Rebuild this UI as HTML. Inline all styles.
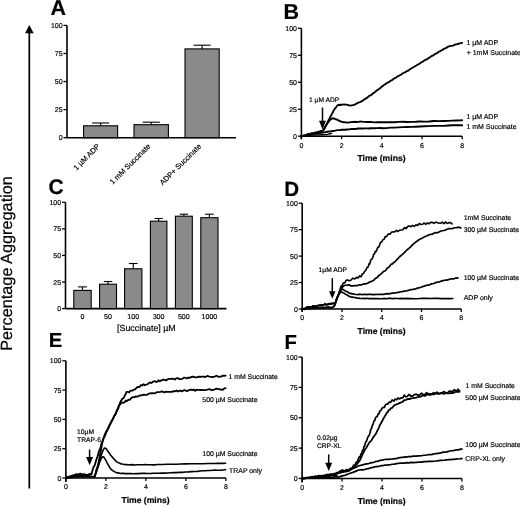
<!DOCTYPE html>
<html><head><meta charset="utf-8"><style>
html,body{margin:0;padding:0;background:#fff;}
svg{display:block;will-change:transform;}
text{font-family:"Liberation Sans", sans-serif;fill:#000;text-rendering:geometricPrecision;stroke:#000;stroke-width:0.18px;}
</style></head><body>
<svg width="520" height="506" viewBox="0 0 520 506">
<rect width="520" height="506" fill="#fff"/>
<line x1="29.30" y1="31.00" x2="29.30" y2="488.50" stroke="#000" stroke-width="1.7"/>
<polygon points="25.1,33.3 33.7,33.3 29.3,25" fill="#000"/>
<text x="0" y="0" font-size="16.3" transform="translate(11.7,350.8) rotate(-90)">Percentage Aggregation</text>
<text x="50.40" y="14.80" font-size="21.5" text-anchor="start" font-weight="bold" >A</text>
<line x1="67.00" y1="25.40" x2="67.00" y2="137.70" stroke="#000" stroke-width="1.6"/>
<line x1="63.50" y1="137.70" x2="67.00" y2="137.70" stroke="#000" stroke-width="1.3"/>
<text x="62.60" y="140.20" font-size="7.0" text-anchor="end" >0</text>
<line x1="63.50" y1="109.62" x2="67.00" y2="109.62" stroke="#000" stroke-width="1.3"/>
<text x="62.60" y="112.12" font-size="7.0" text-anchor="end" >25</text>
<line x1="63.50" y1="81.55" x2="67.00" y2="81.55" stroke="#000" stroke-width="1.3"/>
<text x="62.60" y="84.05" font-size="7.0" text-anchor="end" >50</text>
<line x1="63.50" y1="53.48" x2="67.00" y2="53.48" stroke="#000" stroke-width="1.3"/>
<text x="62.60" y="55.98" font-size="7.0" text-anchor="end" >75</text>
<line x1="63.50" y1="25.40" x2="67.00" y2="25.40" stroke="#000" stroke-width="1.3"/>
<text x="62.60" y="27.90" font-size="7.0" text-anchor="end" >100</text>
<line x1="67.00" y1="137.70" x2="236.00" y2="137.70" stroke="#000" stroke-width="1.6"/>
<rect x="83.60" y="125.80" width="34.00" height="11.90" fill="#8a8a8a" stroke="#000" stroke-width="1.1"/>
<line x1="100.60" y1="123.00" x2="100.60" y2="125.80" stroke="#000" stroke-width="1.1"/>
<line x1="92.10" y1="123.00" x2="109.10" y2="123.00" stroke="#000" stroke-width="1.1"/>
<rect x="134.00" y="124.70" width="34.40" height="13.00" fill="#8a8a8a" stroke="#000" stroke-width="1.1"/>
<line x1="151.20" y1="122.20" x2="151.20" y2="124.70" stroke="#000" stroke-width="1.1"/>
<line x1="142.60" y1="122.20" x2="159.80" y2="122.20" stroke="#000" stroke-width="1.1"/>
<rect x="185.00" y="48.90" width="34.20" height="88.80" fill="#8a8a8a" stroke="#000" stroke-width="1.1"/>
<line x1="202.10" y1="45.20" x2="202.10" y2="48.90" stroke="#000" stroke-width="1.1"/>
<line x1="193.55" y1="45.20" x2="210.65" y2="45.20" stroke="#000" stroke-width="1.1"/>
<text x="0" y="0" font-size="7.5" text-anchor="end" transform="translate(100.40,146.80) rotate(-45)">1 µM ADP</text>
<text x="0" y="0" font-size="7.5" text-anchor="end" transform="translate(150.90,146.80) rotate(-45)">1 mM Succinate</text>
<text x="0" y="0" font-size="7.5" text-anchor="end" transform="translate(201.60,146.80) rotate(-45)">ADP+ Succinate</text>
<text x="283.40" y="18.90" font-size="21.5" text-anchor="start" font-weight="bold" >B</text>
<line x1="301.40" y1="28.30" x2="301.40" y2="139.20" stroke="#000" stroke-width="1.6"/>
<line x1="297.90" y1="136.20" x2="301.40" y2="136.20" stroke="#000" stroke-width="1.3"/>
<text x="297.00" y="138.70" font-size="7.0" text-anchor="end" >0</text>
<line x1="297.90" y1="109.22" x2="301.40" y2="109.22" stroke="#000" stroke-width="1.3"/>
<text x="297.00" y="111.72" font-size="7.0" text-anchor="end" >25</text>
<line x1="297.90" y1="82.25" x2="301.40" y2="82.25" stroke="#000" stroke-width="1.3"/>
<text x="297.00" y="84.75" font-size="7.0" text-anchor="end" >50</text>
<line x1="297.90" y1="55.27" x2="301.40" y2="55.27" stroke="#000" stroke-width="1.3"/>
<text x="297.00" y="57.77" font-size="7.0" text-anchor="end" >75</text>
<line x1="297.90" y1="28.30" x2="301.40" y2="28.30" stroke="#000" stroke-width="1.3"/>
<text x="297.00" y="30.80" font-size="7.0" text-anchor="end" >100</text>
<line x1="301.40" y1="136.20" x2="462.20" y2="136.20" stroke="#000" stroke-width="1.6"/>
<line x1="301.40" y1="136.20" x2="301.40" y2="139.20" stroke="#000" stroke-width="1.3"/>
<text x="301.40" y="147.60" font-size="7.0" text-anchor="middle" >0</text>
<line x1="341.60" y1="136.20" x2="341.60" y2="139.20" stroke="#000" stroke-width="1.3"/>
<text x="341.60" y="147.60" font-size="7.0" text-anchor="middle" >2</text>
<line x1="381.80" y1="136.20" x2="381.80" y2="139.20" stroke="#000" stroke-width="1.3"/>
<text x="381.80" y="147.60" font-size="7.0" text-anchor="middle" >4</text>
<line x1="422.00" y1="136.20" x2="422.00" y2="139.20" stroke="#000" stroke-width="1.3"/>
<text x="422.00" y="147.60" font-size="7.0" text-anchor="middle" >6</text>
<line x1="462.20" y1="136.20" x2="462.20" y2="139.20" stroke="#000" stroke-width="1.3"/>
<text x="462.20" y="147.60" font-size="7.0" text-anchor="middle" >8</text>
<text x="381.50" y="161.30" font-size="8.6" text-anchor="middle" font-weight="bold" >Time (mins)</text>
<path d="M301.40,136.04 L302.88,135.82 L303.88,135.43 L305.00,135.26 L306.20,134.94 L307.44,134.27 L308.68,133.90 L309.88,134.06 L311.00,133.42 L312.00,133.14 L313.84,133.15 L315.60,132.44 L317.25,132.29 L318.73,131.73 L320.00,131.48 L320.99,130.93 L322.03,130.96 L323.17,130.37 L323.85,129.38 L324.55,128.42 L325.25,127.09 L325.95,125.33 L326.65,124.33 L327.35,122.88 L328.05,121.32 L328.75,119.73 L329.45,118.80 L330.15,117.17 L330.85,115.95 L331.57,114.66 L332.28,113.19 L332.99,112.00 L333.67,110.48 L334.32,109.67 L334.93,108.49 L335.52,107.93 L336.40,106.81 L337.30,105.52 L338.46,104.94 L339.80,104.70 L341.11,104.96 L342.14,104.56 L343.22,104.64 L344.33,104.44 L345.40,104.60 L346.44,104.67 L347.48,104.87 L348.52,105.26 L349.56,105.43 L350.60,105.64 L351.60,105.38 L353.04,105.15 L354.05,104.74 L355.17,104.36 L356.46,103.62 L357.87,102.70 L359.38,102.42 L360.99,101.66 L362.70,100.68 L363.60,99.94 L364.52,99.45 L365.47,98.54 L366.45,98.26 L367.45,97.42 L368.48,96.53 L369.53,95.66 L370.61,95.36 L371.71,94.65 L372.84,93.29 L374.00,92.88 L375.20,91.77 L376.44,90.68 L377.71,89.79 L379.02,89.07 L380.34,88.10 L381.68,86.58 L383.03,85.91 L384.36,84.58 L385.69,84.03 L387.00,82.90 L388.29,82.38 L389.58,81.62 L390.87,80.55 L392.16,80.08 L393.45,78.92 L394.74,78.04 L396.03,77.61 L397.32,76.53 L398.61,75.88 L399.90,75.24 L401.20,74.59 L402.49,73.54 L403.79,72.69 L405.09,72.41 L406.39,71.29 L407.70,70.90 L409.00,70.08 L410.30,68.99 L411.60,68.26 L412.90,67.51 L414.20,66.81 L415.50,66.00 L416.80,65.20 L418.10,64.45 L419.40,63.86 L420.70,62.82 L422.00,62.00 L423.30,61.39 L424.60,60.32 L425.90,59.58 L427.22,59.19 L428.58,58.10 L429.96,57.28 L431.35,56.12 L432.72,55.54 L434.07,54.82 L435.38,53.70 L436.63,53.31 L437.81,52.62 L438.90,51.64 L439.89,51.39 L440.79,50.75 L442.39,49.92 L443.83,48.88 L445.22,48.33 L446.70,47.64 L448.26,46.57 L449.83,46.04 L451.39,45.92 L452.95,45.63 L454.50,44.75 L456.15,44.40 L457.92,44.02 L459.62,43.42 L461.07,43.08 L462.10,42.79" fill="none" stroke="#000" stroke-width="1.9" stroke-linejoin="round" stroke-linecap="round"/>
<path d="M323.50,129.75 L324.31,128.47 L325.06,127.07 L325.88,125.74 L326.65,124.64 L327.32,123.33 L327.94,122.62 L328.54,121.83 L329.42,120.54 L330.29,119.62 L331.12,119.19 L332.22,118.42 L333.41,118.29 L334.70,118.75 L335.68,119.25 L336.84,119.54 L337.97,120.25 L339.20,120.73 L340.23,121.30 L341.36,121.56 L342.66,122.13 L344.21,122.18 L346.10,122.43 L347.18,122.58 L348.33,122.63 L349.56,122.38 L350.86,122.18 L352.23,122.02 L353.66,122.05 L355.16,121.79 L356.72,121.93 L358.33,121.87 L360.00,121.57 L361.66,121.62 L363.29,121.88 L364.92,121.88 L366.60,122.03 L368.37,121.94 L370.27,121.95 L372.34,122.10 L374.62,122.36 L377.16,122.20 L380.00,122.24 L383.18,122.24 L386.69,122.20 L390.46,122.14 L394.46,122.26 L398.62,121.87 L402.89,121.71 L407.22,121.98 L411.55,121.85 L415.82,121.79 L420.00,121.47 L424.31,121.58 L428.96,121.45 L433.80,121.05 L438.71,121.13 L443.55,121.03 L448.19,120.84 L452.50,120.67 L456.34,120.47 L459.59,120.40 L462.10,120.29" fill="none" stroke="#000" stroke-width="1.9" stroke-linejoin="round" stroke-linecap="round"/>
<path d="M301.40,136.03 L302.85,135.92 L304.91,135.35 L306.07,135.31 L307.29,134.75 L308.53,134.83 L309.75,134.50 L310.92,134.37 L312.00,134.16 L313.03,133.99 L314.07,133.70 L315.11,133.32 L316.14,133.47 L317.16,133.11 L318.17,133.03 L319.17,133.05 L321.08,132.74 L322.87,132.44 L324.48,132.41 L326.00,132.04 L327.52,131.70 L329.13,131.43 L330.87,131.41 L332.54,130.99 L334.25,130.83 L336.20,130.37 L337.33,130.16 L338.59,130.15 L340.00,130.13 L341.60,129.72 L343.36,129.82 L345.26,129.72 L347.28,129.51 L349.38,129.37 L351.52,128.89 L353.69,129.00 L355.84,128.96 L357.96,128.52 L360.00,128.51 L361.91,128.43 L363.68,128.49 L365.37,128.42 L367.04,128.42 L368.75,128.53 L370.56,128.21 L372.53,128.21 L374.72,128.20 L377.19,128.14 L380.00,128.03 L383.18,128.27 L386.69,128.08 L390.46,127.61 L394.46,127.60 L398.62,127.33 L402.89,127.14 L407.22,126.96 L411.55,126.89 L415.82,126.69 L420.00,126.44 L424.31,126.22 L428.96,126.13 L433.80,125.89 L438.71,125.91 L443.55,125.83 L448.19,125.56 L452.50,125.31 L456.34,125.24 L459.59,125.22 L462.10,125.24" fill="none" stroke="#000" stroke-width="1.9" stroke-linejoin="round" stroke-linecap="round"/>
<path d="M305.00,135.71 L306.36,135.47 L308.28,135.51 L309.38,135.37 L310.52,135.23 L311.69,135.13 L312.84,135.12 L313.96,135.14 L315.00,134.97 L316.01,135.03 L317.05,134.91 L318.09,134.79 L319.14,134.89 L320.19,134.93 L321.22,134.65 L322.22,134.76 L324.12,134.65 L325.85,134.65 L327.54,134.38 L329.12,133.82 L330.51,133.71 L331.60,133.40" fill="none" stroke="#000" stroke-width="1.4" stroke-linejoin="round" stroke-linecap="round"/>
<line x1="322.50" y1="107.50" x2="322.50" y2="121.30" stroke="#000" stroke-width="1.5"/>
<polygon points="319.00,120.80 326.00,120.80 322.50,129.60" fill="#000"/>
<text x="309.00" y="101.80" font-size="6.7" text-anchor="start" >1 µM ADP</text>
<text x="466.40" y="45.30" font-size="7.0" text-anchor="start" >1 µM ADP</text>
<text x="466.70" y="54.50" font-size="7.0" text-anchor="start" >+ 1mM Succinate</text>
<text x="466.40" y="118.50" font-size="7.0" text-anchor="start" >1 µM ADP</text>
<text x="466.40" y="128.60" font-size="7.0" text-anchor="start" >1 mM Succinate</text>
<text x="48.50" y="193.50" font-size="21.0" text-anchor="start" font-weight="bold" >C</text>
<line x1="65.50" y1="202.30" x2="65.50" y2="308.60" stroke="#000" stroke-width="1.6"/>
<line x1="62.00" y1="308.60" x2="65.50" y2="308.60" stroke="#000" stroke-width="1.3"/>
<text x="61.10" y="311.10" font-size="7.0" text-anchor="end" >0</text>
<line x1="62.00" y1="282.03" x2="65.50" y2="282.03" stroke="#000" stroke-width="1.3"/>
<text x="61.10" y="284.53" font-size="7.0" text-anchor="end" >25</text>
<line x1="62.00" y1="255.45" x2="65.50" y2="255.45" stroke="#000" stroke-width="1.3"/>
<text x="61.10" y="257.95" font-size="7.0" text-anchor="end" >50</text>
<line x1="62.00" y1="228.88" x2="65.50" y2="228.88" stroke="#000" stroke-width="1.3"/>
<text x="61.10" y="231.38" font-size="7.0" text-anchor="end" >75</text>
<line x1="62.00" y1="202.30" x2="65.50" y2="202.30" stroke="#000" stroke-width="1.3"/>
<text x="61.10" y="204.80" font-size="7.0" text-anchor="end" >100</text>
<line x1="65.50" y1="308.60" x2="226.50" y2="308.60" stroke="#000" stroke-width="1.6"/>
<rect x="73.80" y="290.40" width="17.40" height="18.20" fill="#8a8a8a" stroke="#000" stroke-width="1.1"/>
<line x1="82.50" y1="286.90" x2="82.50" y2="290.40" stroke="#000" stroke-width="1.1"/>
<line x1="78.15" y1="286.90" x2="86.85" y2="286.90" stroke="#000" stroke-width="1.1"/>
<rect x="99.60" y="284.20" width="16.90" height="24.40" fill="#8a8a8a" stroke="#000" stroke-width="1.1"/>
<line x1="108.05" y1="281.50" x2="108.05" y2="284.20" stroke="#000" stroke-width="1.1"/>
<line x1="103.82" y1="281.50" x2="112.28" y2="281.50" stroke="#000" stroke-width="1.1"/>
<rect x="124.60" y="268.80" width="17.30" height="39.80" fill="#8a8a8a" stroke="#000" stroke-width="1.1"/>
<line x1="133.25" y1="263.50" x2="133.25" y2="268.80" stroke="#000" stroke-width="1.1"/>
<line x1="128.93" y1="263.50" x2="137.57" y2="263.50" stroke="#000" stroke-width="1.1"/>
<rect x="150.40" y="221.20" width="16.50" height="87.40" fill="#8a8a8a" stroke="#000" stroke-width="1.1"/>
<line x1="158.65" y1="218.50" x2="158.65" y2="221.20" stroke="#000" stroke-width="1.1"/>
<line x1="154.53" y1="218.50" x2="162.78" y2="218.50" stroke="#000" stroke-width="1.1"/>
<rect x="175.40" y="216.20" width="16.90" height="92.40" fill="#8a8a8a" stroke="#000" stroke-width="1.1"/>
<line x1="183.85" y1="214.20" x2="183.85" y2="216.20" stroke="#000" stroke-width="1.1"/>
<line x1="179.63" y1="214.20" x2="188.08" y2="214.20" stroke="#000" stroke-width="1.1"/>
<rect x="200.80" y="217.70" width="17.20" height="90.90" fill="#8a8a8a" stroke="#000" stroke-width="1.1"/>
<line x1="209.40" y1="214.20" x2="209.40" y2="217.70" stroke="#000" stroke-width="1.1"/>
<line x1="205.10" y1="214.20" x2="213.70" y2="214.20" stroke="#000" stroke-width="1.1"/>
<text x="82.50" y="318.90" font-size="7.1" text-anchor="middle" >0</text>
<text x="108.00" y="318.90" font-size="7.1" text-anchor="middle" >50</text>
<text x="133.20" y="318.90" font-size="7.1" text-anchor="middle" >100</text>
<text x="158.60" y="318.90" font-size="7.1" text-anchor="middle" >300</text>
<text x="183.80" y="318.90" font-size="7.1" text-anchor="middle" >500</text>
<text x="209.40" y="318.90" font-size="7.1" text-anchor="middle" >1000</text>
<text x="146.40" y="331.20" font-size="8.85" text-anchor="middle" >[Succinate] µM</text>
<text x="284.30" y="196.20" font-size="20.6" text-anchor="start" font-weight="bold" >D</text>
<line x1="302.20" y1="203.20" x2="302.20" y2="312.00" stroke="#000" stroke-width="1.6"/>
<line x1="298.70" y1="309.00" x2="302.20" y2="309.00" stroke="#000" stroke-width="1.3"/>
<text x="297.80" y="311.50" font-size="7.0" text-anchor="end" >0</text>
<line x1="298.70" y1="282.55" x2="302.20" y2="282.55" stroke="#000" stroke-width="1.3"/>
<text x="297.80" y="285.05" font-size="7.0" text-anchor="end" >25</text>
<line x1="298.70" y1="256.10" x2="302.20" y2="256.10" stroke="#000" stroke-width="1.3"/>
<text x="297.80" y="258.60" font-size="7.0" text-anchor="end" >50</text>
<line x1="298.70" y1="229.65" x2="302.20" y2="229.65" stroke="#000" stroke-width="1.3"/>
<text x="297.80" y="232.15" font-size="7.0" text-anchor="end" >75</text>
<line x1="298.70" y1="203.20" x2="302.20" y2="203.20" stroke="#000" stroke-width="1.3"/>
<text x="297.80" y="205.70" font-size="7.0" text-anchor="end" >100</text>
<line x1="302.20" y1="309.00" x2="461.24" y2="309.00" stroke="#000" stroke-width="1.6"/>
<line x1="302.20" y1="309.00" x2="302.20" y2="312.00" stroke="#000" stroke-width="1.3"/>
<text x="302.20" y="320.40" font-size="7.0" text-anchor="middle" >0</text>
<line x1="341.96" y1="309.00" x2="341.96" y2="312.00" stroke="#000" stroke-width="1.3"/>
<text x="341.96" y="320.40" font-size="7.0" text-anchor="middle" >2</text>
<line x1="381.72" y1="309.00" x2="381.72" y2="312.00" stroke="#000" stroke-width="1.3"/>
<text x="381.72" y="320.40" font-size="7.0" text-anchor="middle" >4</text>
<line x1="421.48" y1="309.00" x2="421.48" y2="312.00" stroke="#000" stroke-width="1.3"/>
<text x="421.48" y="320.40" font-size="7.0" text-anchor="middle" >6</text>
<line x1="461.24" y1="309.00" x2="461.24" y2="312.00" stroke="#000" stroke-width="1.3"/>
<text x="461.24" y="320.40" font-size="7.0" text-anchor="middle" >8</text>
<text x="381.60" y="334.30" font-size="8.6" text-anchor="middle" font-weight="bold" >Time (mins)</text>
<path d="M302.30,308.37 L304.49,309.42 L306.53,307.01 L308.76,306.69 L310.97,307.73 L312.99,305.87 L315.01,306.57 L317.04,306.12 L319.06,305.21 L321.04,304.79 L322.96,305.79 L324.93,303.51 L326.88,305.08 L328.70,304.53 L330.31,303.77 L332.14,303.99 L333.71,303.12 L335.34,303.43 L336.26,300.15 L336.83,300.16 L337.40,297.25 L338.00,296.76 L338.62,294.77 L339.23,291.63 L339.86,290.72 L340.54,287.52 L341.30,285.92 L342.17,285.46 L343.12,282.98 L344.62,282.99 L346.10,280.31 L347.47,279.99 L349.28,280.74 L350.80,280.18 L352.64,278.18 L354.67,279.02 L356.56,277.34 L358.05,278.01 L359.62,275.94 L361.10,276.84 L362.27,273.79 L363.44,273.69 L364.61,271.32 L365.80,270.43 L367.00,267.56 L368.20,267.09 L369.00,263.71 L369.78,264.02 L370.56,260.67 L371.34,259.21 L372.12,259.08 L372.90,257.17 L373.70,253.99 L374.50,253.96 L375.30,251.20 L376.10,251.67 L376.90,249.63 L377.68,247.39 L378.46,247.35 L379.24,246.24 L380.41,242.41 L381.60,242.25 L382.80,239.72 L384.00,239.46 L385.18,236.65 L386.52,236.58 L388.16,234.01 L389.97,234.20 L391.44,232.19 L393.04,231.74 L394.68,232.02 L396.30,230.29 L397.90,231.52 L399.54,230.24 L401.19,229.93 L402.85,229.72 L404.50,227.49 L406.14,228.71 L407.78,226.39 L409.42,225.98 L411.06,226.65 L412.70,225.37 L414.34,226.32 L415.98,224.75 L417.63,225.56 L419.27,223.47 L420.90,224.53 L422.52,224.33 L424.14,222.96 L425.76,224.38 L427.38,222.92 L429.00,223.78 L430.63,222.39 L432.27,222.37 L433.92,223.45 L435.56,222.22 L437.20,222.44 L438.86,223.11 L440.53,223.22 L442.20,222.17 L443.83,223.71 L445.40,221.93 L447.00,223.48 L448.66,222.86 L450.22,222.49 L452.08,223.94" fill="none" stroke="#000" stroke-width="1.6" stroke-linejoin="round" stroke-linecap="round"/>
<path d="M302.30,308.92 L304.02,309.10 L306.45,308.96 L309.29,308.66 L312.24,308.28 L315.00,307.65 L317.70,307.77 L320.54,307.46 L323.33,307.70 L325.88,307.66 L328.00,307.20 L329.61,307.29 L331.34,308.06 L333.06,306.92 L334.32,306.06 L335.01,304.44 L335.64,302.51 L336.28,299.87 L337.00,298.05 L337.80,296.07 L338.64,293.95 L339.51,292.16 L340.40,289.94 L341.30,288.00 L342.66,286.99 L344.05,285.66 L345.56,285.23 L347.24,285.16 L349.06,284.75 L351.01,285.95 L353.13,285.95 L354.70,285.69 L356.35,285.57 L358.00,285.30 L359.57,284.81 L361.66,284.80 L363.55,283.94 L365.37,283.92 L367.23,283.40 L369.12,282.36 L371.01,281.49 L372.90,280.76 L374.16,279.86 L375.42,278.21 L376.67,277.91 L377.93,276.74 L379.20,275.15 L380.50,274.38 L381.83,273.12 L383.16,271.80 L384.43,271.12 L385.60,270.43 L387.13,268.32 L388.50,267.46 L389.84,265.93 L391.19,264.15 L392.44,263.85 L393.85,262.43 L395.00,261.73 L396.36,260.21 L397.88,258.73 L399.52,256.70 L401.24,255.47 L403.00,253.93 L404.86,252.17 L406.83,249.98 L408.85,248.52 L410.83,246.55 L412.70,244.61 L414.44,243.12 L416.09,241.82 L417.70,240.70 L419.29,239.51 L420.90,238.80 L422.52,238.07 L424.14,237.09 L425.76,236.24 L427.38,235.79 L429.00,234.80 L430.63,234.36 L432.27,234.12 L433.92,233.27 L435.56,232.57 L437.20,232.80 L438.84,232.12 L440.48,231.26 L442.12,230.78 L443.76,230.47 L445.40,230.10 L447.08,229.31 L448.81,228.68 L450.52,228.51 L452.14,228.76 L454.27,227.73 L456.11,227.76 L457.70,227.32 L459.37,227.35 L460.88,227.99" fill="none" stroke="#000" stroke-width="1.7" stroke-linejoin="round" stroke-linecap="round"/>
<path d="M302.30,308.95 L304.02,308.69 L305.17,308.52 L306.45,308.45 L307.84,308.37 L309.29,308.41 L310.77,308.07 L312.24,307.95 L313.66,308.06 L315.00,307.95 L316.32,308.03 L317.70,307.64 L319.11,307.76 L320.54,307.71 L321.95,307.48 L323.33,307.91 L324.64,307.49 L325.88,307.39 L327.00,307.54 L328.86,307.32 L330.26,307.68 L331.34,307.70 L332.65,307.46 L333.50,306.78 L334.32,305.85 L335.01,303.86 L335.32,303.13 L335.64,301.93 L335.95,301.13 L336.28,299.79 L336.63,298.78 L337.40,296.99 L337.83,296.32 L338.27,295.26 L338.72,294.15 L339.17,293.08 L339.62,292.48 L340.50,291.09 L341.30,289.85 L342.29,289.08 L343.46,289.73 L344.50,290.40 L345.75,291.05 L346.66,291.49 L347.63,292.01 L348.66,292.78 L349.74,293.28 L350.82,293.25 L351.95,293.91 L353.21,293.90 L354.67,294.27 L356.39,294.48 L358.33,294.60 L359.37,294.19 L360.46,294.35 L361.59,294.52 L362.77,294.71 L364.00,294.29 L365.28,294.40 L366.60,294.67 L368.00,294.31 L369.51,294.44 L371.10,294.40 L372.74,294.56 L374.41,294.66 L376.08,294.26 L377.75,294.50 L379.37,294.45 L380.93,294.44 L382.40,294.23 L383.78,294.33 L385.09,293.96 L386.34,293.89 L387.56,293.69 L388.75,293.85 L389.94,293.57 L391.14,293.32 L392.38,293.11 L393.66,293.21 L395.00,292.95 L396.41,292.78 L397.86,292.38 L399.35,292.17 L400.87,291.73 L402.40,291.71 L403.94,291.06 L405.48,290.97 L407.01,290.79 L408.52,290.42 L410.00,289.80 L411.43,289.53 L412.82,289.50 L414.17,289.05 L415.51,288.81 L416.86,288.44 L418.22,287.85 L419.62,287.68 L421.07,287.19 L422.59,286.57 L424.20,286.14 L425.91,285.50 L427.73,285.14 L429.63,284.85 L431.58,283.85 L433.56,283.49 L435.54,282.68 L437.52,282.09 L439.45,281.83 L441.32,281.12 L443.10,280.57 L444.87,280.21 L446.70,280.06 L448.54,279.65 L450.36,279.00 L452.13,278.78 L453.80,278.84 L455.34,278.19 L456.72,278.12 L457.88,277.83" fill="none" stroke="#000" stroke-width="1.7" stroke-linejoin="round" stroke-linecap="round"/>
<path d="M302.30,309.14 L303.61,308.75 L305.47,308.40 L306.53,308.03 L307.63,307.60 L308.76,307.34 L309.89,307.04 L310.97,307.18 L312.00,306.61 L312.99,306.36 L314.00,306.64 L315.01,306.07 L316.03,306.24 L317.04,305.66 L318.06,305.67 L319.06,305.37 L320.06,305.51 L322.00,305.06 L323.94,304.72 L324.93,304.60 L326.88,304.31 L328.70,303.72 L330.31,303.57 L331.61,303.30 L333.01,303.19 L334.03,303.57 L335.00,302.85 L335.66,301.95 L336.26,300.24 L336.83,298.83 L337.40,297.26 L338.00,296.11 L338.62,294.72 L339.23,293.85 L339.86,293.06 L340.91,292.01 L342.17,292.20 L343.12,292.72 L344.12,293.20 L345.12,293.99 L346.10,294.55 L347.00,294.86 L348.26,295.70 L349.16,296.52 L350.20,296.63 L351.42,297.04 L352.69,297.17 L354.06,297.48 L355.65,297.67 L357.58,298.23 L358.70,298.21 L359.94,298.36 L361.28,298.48 L362.71,298.35 L364.23,298.55 L365.81,298.39 L367.46,298.37 L369.17,298.66 L370.91,298.66 L372.69,298.70 L374.50,298.49 L376.34,298.65 L378.23,298.48 L380.16,298.77 L382.15,298.73 L384.18,298.41 L386.25,298.73 L388.37,298.35 L390.54,298.30 L392.75,298.61 L395.00,298.40 L397.28,298.52 L399.59,298.59 L401.92,298.31 L404.30,298.67 L406.73,298.46 L409.22,298.55 L411.78,298.52 L414.43,298.73 L417.16,298.73 L420.00,298.49 L423.11,298.39 L426.59,298.46 L430.30,298.49 L434.13,298.28 L437.96,298.28 L441.67,298.55 L445.13,298.48 L448.21,298.59 L450.81,298.56 L452.80,298.49" fill="none" stroke="#000" stroke-width="1.7" stroke-linejoin="round" stroke-linecap="round"/>
<line x1="332.30" y1="278.10" x2="332.30" y2="291.80" stroke="#000" stroke-width="1.5"/>
<polygon points="329.10,291.30 335.50,291.30 332.30,298.80" fill="#000"/>
<text x="318.60" y="272.40" font-size="6.7" text-anchor="start" >1µM ADP</text>
<text x="463.70" y="220.20" font-size="6.9" text-anchor="start" >1mM Succinate</text>
<text x="463.70" y="232.00" font-size="6.9" text-anchor="start" >300 µM Succinate</text>
<text x="463.70" y="279.90" font-size="6.9" text-anchor="start" >100 µM Succinate</text>
<text x="463.70" y="299.60" font-size="7.0" text-anchor="start" >ADP only</text>
<text x="48.70" y="347.30" font-size="20.3" text-anchor="start" font-weight="bold" >E</text>
<line x1="65.90" y1="360.80" x2="65.90" y2="482.00" stroke="#000" stroke-width="1.6"/>
<line x1="62.40" y1="478.00" x2="65.90" y2="478.00" stroke="#000" stroke-width="1.3"/>
<text x="61.50" y="480.50" font-size="7.0" text-anchor="end" >0</text>
<line x1="62.40" y1="448.70" x2="65.90" y2="448.70" stroke="#000" stroke-width="1.3"/>
<text x="61.50" y="451.20" font-size="7.0" text-anchor="end" >25</text>
<line x1="62.40" y1="419.40" x2="65.90" y2="419.40" stroke="#000" stroke-width="1.3"/>
<text x="61.50" y="421.90" font-size="7.0" text-anchor="end" >50</text>
<line x1="62.40" y1="390.10" x2="65.90" y2="390.10" stroke="#000" stroke-width="1.3"/>
<text x="61.50" y="392.60" font-size="7.0" text-anchor="end" >75</text>
<line x1="62.40" y1="360.80" x2="65.90" y2="360.80" stroke="#000" stroke-width="1.3"/>
<text x="61.50" y="363.30" font-size="7.0" text-anchor="end" >100</text>
<line x1="65.90" y1="478.00" x2="225.90" y2="478.00" stroke="#000" stroke-width="1.6"/>
<line x1="65.90" y1="478.00" x2="65.90" y2="481.00" stroke="#000" stroke-width="1.3"/>
<text x="65.90" y="489.40" font-size="7.0" text-anchor="middle" >0</text>
<line x1="105.90" y1="478.00" x2="105.90" y2="481.00" stroke="#000" stroke-width="1.3"/>
<text x="105.90" y="489.40" font-size="7.0" text-anchor="middle" >2</text>
<line x1="145.90" y1="478.00" x2="145.90" y2="481.00" stroke="#000" stroke-width="1.3"/>
<text x="145.90" y="489.40" font-size="7.0" text-anchor="middle" >4</text>
<line x1="185.90" y1="478.00" x2="185.90" y2="481.00" stroke="#000" stroke-width="1.3"/>
<text x="185.90" y="489.40" font-size="7.0" text-anchor="middle" >6</text>
<line x1="225.90" y1="478.00" x2="225.90" y2="481.00" stroke="#000" stroke-width="1.3"/>
<text x="225.90" y="489.40" font-size="7.0" text-anchor="middle" >8</text>
<text x="145.60" y="503.10" font-size="8.6" text-anchor="middle" font-weight="bold" >Time (mins)</text>
<path d="M65.90,477.87 L67.20,477.09 L68.57,476.66 L69.54,476.43 L70.96,476.01 L71.98,475.70 L73.03,475.21 L74.05,475.42 L75.44,474.46 L76.67,474.25 L77.83,474.35 L79.00,474.11 L80.20,473.70 L81.40,473.91 L82.60,474.75 L83.79,474.11 L84.98,474.36 L86.17,474.83 L87.44,474.81 L88.94,474.26 L89.94,473.99 L91.14,473.94" fill="none" stroke="#000" stroke-width="1.8" stroke-linejoin="round" stroke-linecap="round"/>
<path d="M65.90,478.16 L67.22,477.79 L68.45,477.91 L69.84,477.61 L71.29,477.55 L72.72,476.86 L74.26,476.85 L75.88,476.66 L77.54,476.84 L79.19,476.72 L80.80,476.51 L82.43,476.80 L84.06,476.53 L85.67,476.67 L87.24,476.65 L88.77,476.98 L90.39,476.75 L92.00,476.66 L93.45,476.53 L94.59,476.76" fill="none" stroke="#000" stroke-width="1.8" stroke-linejoin="round" stroke-linecap="round"/>
<path d="M67.00,477.60 L68.10,477.33 L69.12,477.24 L70.27,476.85 L71.44,476.12 L72.56,475.80 L73.73,476.07 L74.94,475.88 L76.17,475.48 L77.40,475.60 L78.60,475.33 L79.80,475.14 L81.00,475.14 L82.20,475.12 L83.40,475.70 L84.63,475.92 L85.99,475.90 L87.38,475.49 L88.64,475.59 L89.64,475.76" fill="none" stroke="#000" stroke-width="1.6" stroke-linejoin="round" stroke-linecap="round"/>
<path d="M91.40,474.67 L91.72,473.26 L92.18,471.40 L92.56,470.33 L93.00,468.51 L93.50,467.15 L94.08,466.42 L94.70,465.29 L95.35,462.91 L96.00,460.86 L96.66,458.78 L97.00,457.87 L97.34,457.29 L97.69,455.65 L98.05,455.27 L98.40,452.91 L98.77,452.00 L99.13,451.17 L99.50,449.87 L99.88,449.37 L100.28,448.14 L100.68,447.08 L101.09,445.36 L101.51,443.26 L101.91,442.88 L102.31,441.67 L102.70,440.47 L103.06,439.12 L103.71,437.97 L104.23,436.83 L104.69,434.41 L105.16,434.13 L105.69,432.48 L106.34,431.31 L107.10,430.40 L107.91,428.98 L108.76,426.95 L109.59,424.72 L110.40,424.25 L111.21,421.57 L112.01,420.29 L112.81,419.37 L113.61,417.02 L114.40,415.35 L115.21,414.71 L116.03,413.03 L116.80,410.48 L117.49,409.11 L118.07,407.66 L118.53,406.32 L119.09,405.05 L119.61,404.85 L120.20,402.24 L120.80,401.31 L121.40,400.21 L122.00,399.06 L122.78,398.68 L123.58,397.91 L124.25,396.87 L124.97,395.07 L125.71,393.95 L126.43,391.84 L127.70,391.92 L129.15,392.53 L130.19,390.81 L131.37,390.68 L132.64,390.49 L133.95,389.58 L135.26,389.29 L136.65,387.64 L138.10,386.92 L139.55,387.02 L140.94,384.98 L142.24,385.57 L143.51,384.19 L144.74,385.26 L145.91,384.70 L147.50,384.42 L148.60,383.25 L149.79,382.48 L151.40,382.99 L153.05,381.69 L155.01,381.23 L156.09,381.93 L157.23,381.76 L158.40,380.28 L159.61,381.41 L160.85,380.55 L162.10,380.12 L163.39,379.53 L164.74,379.78 L166.14,380.52 L167.59,379.31 L169.06,378.94 L170.56,378.82 L172.06,378.66 L173.55,378.86 L175.04,379.56 L176.50,378.17 L177.95,378.19 L179.40,379.16 L180.85,379.10 L182.30,378.93 L183.75,377.68 L185.20,377.70 L186.65,378.46 L188.10,377.62 L189.55,377.82 L191.00,377.12 L192.42,376.57 L193.79,376.95 L195.14,377.45 L196.49,377.40 L197.84,376.99 L199.23,376.75 L200.66,376.77 L202.15,376.55 L203.73,376.62 L205.40,377.00 L207.28,375.99 L209.39,376.52 L211.67,376.98 L214.03,376.81 L216.40,375.76 L218.70,376.90 L220.84,376.68 L222.76,375.65 L224.37,375.77 L225.60,375.65" fill="none" stroke="#000" stroke-width="1.8" stroke-linejoin="round" stroke-linecap="round"/>
<path d="M94.50,476.13 L94.94,476.08 L95.34,473.89 L95.80,473.05 L96.27,470.26 L96.73,468.40 L97.23,467.79 L97.75,465.64 L98.27,463.84 L98.77,461.29 L99.22,459.03 L99.64,457.37 L100.04,454.33 L100.43,452.99 L100.81,450.87 L101.18,448.53 L101.51,447.36 L101.82,445.14 L102.16,443.64 L102.56,441.69 L103.06,439.85 L103.63,438.18 L104.26,436.83 L104.94,435.71 L105.64,433.98 L106.37,432.23 L107.14,430.59 L107.95,428.19 L108.77,427.66 L109.60,425.04 L110.40,423.25 L111.21,422.25 L112.01,421.04 L112.81,418.90 L113.61,417.80 L114.40,415.68 L115.21,415.06 L116.03,412.62 L116.80,411.06 L117.49,409.69 L118.06,408.97 L118.44,408.08 L118.87,406.06 L119.49,404.78 L120.61,404.00 L121.59,402.60 L122.66,402.61 L123.76,402.73 L124.80,402.12 L125.79,400.52 L126.77,401.21 L128.23,399.77 L129.70,399.92 L131.14,398.21 L132.56,397.17 L133.55,397.18 L134.60,397.28 L135.73,396.29 L136.93,396.72 L138.15,396.30 L139.39,395.60 L140.60,395.30 L141.74,395.36 L142.84,394.93 L143.96,394.62 L145.16,394.78 L146.50,394.86 L148.06,394.20 L149.78,393.32 L151.58,393.22 L153.35,393.23 L155.00,393.37 L156.39,392.42 L157.59,392.09 L158.80,392.20 L160.24,391.90 L162.10,391.29 L163.24,391.95 L164.51,392.41 L165.88,391.72 L167.33,391.92 L168.84,391.96 L170.38,391.87 L171.94,391.88 L173.50,391.08 L175.02,391.36 L176.50,390.43 L177.95,391.49 L179.40,390.67 L180.85,390.75 L182.30,391.32 L183.75,390.36 L185.20,390.16 L186.65,391.05 L188.10,390.66 L189.55,389.84 L191.00,389.69 L192.42,390.12 L193.79,389.55 L195.14,390.73 L196.49,389.70 L197.84,389.78 L199.23,389.89 L200.66,390.02 L202.15,389.84 L203.73,390.07 L205.40,390.04 L207.28,389.62 L209.39,389.02 L211.67,390.24 L214.03,389.71 L216.40,388.69 L218.70,389.12 L220.84,389.49 L222.76,389.76 L224.37,388.30 L225.60,388.16" fill="none" stroke="#000" stroke-width="1.8" stroke-linejoin="round" stroke-linecap="round"/>
<path d="M94.50,476.79 L95.07,475.30 L95.59,474.12 L96.17,472.55 L96.74,470.73 L97.25,469.15 L97.75,467.46 L98.25,465.73 L98.75,463.58 L99.25,461.83 L99.75,459.98 L100.25,458.49 L100.75,456.56 L101.25,455.32 L101.75,453.68 L102.25,452.38 L102.77,450.92 L103.28,449.82 L103.79,448.94 L104.50,448.14 L105.67,448.23 L106.50,449.11 L107.28,450.43 L107.86,451.17 L108.44,452.03 L109.02,452.78 L109.84,453.97 L110.65,455.28 L111.46,455.99 L112.28,457.14 L113.14,458.13 L114.00,458.93 L114.80,459.91 L115.73,460.87 L116.58,461.61 L117.37,462.18 L118.44,462.64 L119.46,462.97 L120.38,463.61 L121.88,464.05 L123.71,464.27 L125.00,464.65 L126.56,464.47 L128.37,464.78 L130.38,464.88 L132.58,464.60 L134.92,464.95 L137.37,464.76 L139.91,464.70 L142.50,464.69 L145.11,464.63 L147.70,464.80 L150.24,464.73 L152.74,464.88 L155.25,464.83 L157.81,464.47 L160.45,464.54 L163.23,464.47 L166.18,464.31 L169.34,464.26 L172.77,464.19 L176.50,464.28 L180.81,464.05 L185.81,463.85 L191.28,463.79 L197.04,463.76 L202.85,463.69 L208.52,463.45 L213.84,463.52 L218.60,463.23 L222.59,463.33 L225.60,463.24" fill="none" stroke="#000" stroke-width="1.6" stroke-linejoin="round" stroke-linecap="round"/>
<path d="M94.50,476.67 L94.94,475.62 L95.34,474.30 L95.80,473.03 L96.27,471.69 L96.73,470.39 L97.23,468.90 L97.75,467.27 L98.27,466.11 L98.77,464.77 L99.22,463.40 L99.64,462.31 L100.04,461.13 L100.43,460.41 L101.00,459.07 L101.55,457.81 L102.08,457.18 L102.99,456.70 L103.96,457.24 L104.58,458.38 L105.26,459.24 L105.74,460.02 L106.23,461.20 L106.72,462.03 L107.20,463.09 L107.91,464.31 L108.61,465.37 L109.28,466.67 L109.88,467.75 L110.54,468.61 L111.50,469.62 L112.60,470.60 L113.46,471.02 L114.40,471.60 L115.39,472.13 L116.33,472.61 L117.45,472.90 L119.22,473.11 L120.30,473.45 L121.70,473.42 L123.47,473.37 L125.56,473.64 L127.93,473.66 L130.51,473.53 L133.26,473.71 L136.13,473.64 L139.06,473.59 L142.00,473.39 L144.90,473.24 L147.70,473.47 L150.47,473.45 L153.28,473.25 L156.13,473.24 L159.01,473.21 L161.92,473.01 L164.84,473.11 L167.76,472.96 L170.69,472.79 L173.60,472.57 L176.50,472.62 L179.43,472.38 L182.41,472.38 L185.44,471.98 L188.47,471.87 L191.49,471.59 L194.46,471.47 L197.37,471.34 L200.18,470.97 L202.86,470.77 L205.40,470.79 L207.86,470.54 L210.32,470.53 L212.74,470.28 L215.08,470.13 L217.31,470.20 L219.39,470.26 L221.30,470.15 L222.99,469.93 L224.44,469.81 L225.60,469.63" fill="none" stroke="#000" stroke-width="1.6" stroke-linejoin="round" stroke-linecap="round"/>
<line x1="89.60" y1="449.60" x2="89.60" y2="457.50" stroke="#000" stroke-width="1.5"/>
<polygon points="86.10,457.00 93.10,457.00 89.60,465.20" fill="#000"/>
<text x="77.10" y="434.00" font-size="6.7" text-anchor="start" >10µM</text>
<text x="77.10" y="442.20" font-size="6.7" text-anchor="start" >TRAP-6</text>
<text x="228.40" y="379.00" font-size="6.9" text-anchor="start" >1 mM Succinate</text>
<text x="202.30" y="401.50" font-size="6.9" text-anchor="start" >500 µM Succinate</text>
<text x="202.30" y="456.10" font-size="6.9" text-anchor="start" >100 µM Succinate</text>
<text x="229.10" y="473.40" font-size="6.9" text-anchor="start" >TRAP only</text>
<text x="284.40" y="348.80" font-size="20.3" text-anchor="start" font-weight="bold" >F</text>
<line x1="302.10" y1="357.00" x2="302.10" y2="482.50" stroke="#000" stroke-width="1.6"/>
<line x1="298.60" y1="478.50" x2="302.10" y2="478.50" stroke="#000" stroke-width="1.3"/>
<text x="297.70" y="481.00" font-size="7.0" text-anchor="end" >0</text>
<line x1="298.60" y1="448.12" x2="302.10" y2="448.12" stroke="#000" stroke-width="1.3"/>
<text x="297.70" y="450.62" font-size="7.0" text-anchor="end" >25</text>
<line x1="298.60" y1="417.75" x2="302.10" y2="417.75" stroke="#000" stroke-width="1.3"/>
<text x="297.70" y="420.25" font-size="7.0" text-anchor="end" >50</text>
<line x1="298.60" y1="387.38" x2="302.10" y2="387.38" stroke="#000" stroke-width="1.3"/>
<text x="297.70" y="389.88" font-size="7.0" text-anchor="end" >75</text>
<line x1="298.60" y1="357.00" x2="302.10" y2="357.00" stroke="#000" stroke-width="1.3"/>
<text x="297.70" y="359.50" font-size="7.0" text-anchor="end" >100</text>
<line x1="302.10" y1="478.50" x2="461.94" y2="478.50" stroke="#000" stroke-width="1.6"/>
<line x1="302.10" y1="478.50" x2="302.10" y2="481.50" stroke="#000" stroke-width="1.3"/>
<text x="302.10" y="489.90" font-size="7.0" text-anchor="middle" >0</text>
<line x1="342.06" y1="478.50" x2="342.06" y2="481.50" stroke="#000" stroke-width="1.3"/>
<text x="342.06" y="489.90" font-size="7.0" text-anchor="middle" >2</text>
<line x1="382.02" y1="478.50" x2="382.02" y2="481.50" stroke="#000" stroke-width="1.3"/>
<text x="382.02" y="489.90" font-size="7.0" text-anchor="middle" >4</text>
<line x1="421.98" y1="478.50" x2="421.98" y2="481.50" stroke="#000" stroke-width="1.3"/>
<text x="421.98" y="489.90" font-size="7.0" text-anchor="middle" >6</text>
<line x1="461.94" y1="478.50" x2="461.94" y2="481.50" stroke="#000" stroke-width="1.3"/>
<text x="461.94" y="489.90" font-size="7.0" text-anchor="middle" >8</text>
<text x="381.70" y="504.00" font-size="8.6" text-anchor="middle" font-weight="bold" >Time (mins)</text>
<path d="M302.10,478.32 L303.90,478.07 L305.11,478.38 L306.47,477.51 L307.93,477.95 L309.43,477.34 L310.94,477.07 L312.40,476.71 L313.77,477.06 L315.00,476.25 L316.12,476.39 L317.19,476.18 L318.22,475.77 L319.21,475.64 L321.15,475.96 L323.05,475.52 L325.00,475.19 L326.01,475.18 L327.05,474.41 L328.11,474.77 L329.16,474.69 L330.21,474.15 L331.24,474.21 L332.23,474.48 L334.08,473.65 L335.67,473.59 L337.12,472.56 L338.42,472.35 L339.52,471.44 L340.70,471.01" fill="none" stroke="#000" stroke-width="1.8" stroke-linejoin="round" stroke-linecap="round"/>
<path d="M302.10,478.42 L303.85,478.59 L305.02,478.42 L306.33,478.18 L307.74,478.18 L309.21,477.92 L310.72,478.04 L312.21,477.61 L313.65,477.70 L315.00,477.65 L316.31,477.48 L317.64,477.23 L318.99,477.27 L320.34,477.53 L321.68,477.25 L323.01,477.56 L324.32,477.39 L325.59,477.64 L326.82,477.54 L328.00,477.44 L329.15,477.18 L330.29,476.94 L331.41,477.21 L332.50,477.28 L333.56,477.33 L334.58,476.85 L336.43,476.72 L338.00,477.09 L339.25,476.79 L340.62,476.36 L341.79,476.19" fill="none" stroke="#000" stroke-width="1.8" stroke-linejoin="round" stroke-linecap="round"/>
<path d="M302.10,478.29 L303.18,478.41 L304.60,478.33 L306.28,478.11 L308.16,477.64 L310.18,477.41 L312.26,477.47 L314.35,477.39 L316.38,476.71 L318.29,476.41 L320.00,476.25 L321.59,476.47 L323.17,476.03 L324.72,475.87 L326.23,476.00 L327.70,475.57 L329.11,475.16 L330.46,475.22 L331.73,474.60 L332.91,474.57 L334.00,474.62 L335.00,474.09 L336.76,473.56 L338.23,473.39 L339.41,472.85 L340.70,472.78" fill="none" stroke="#000" stroke-width="1.6" stroke-linejoin="round" stroke-linecap="round"/>
<path d="M305.00,477.76 L306.78,478.05 L307.98,477.71 L309.31,477.86 L310.75,477.53 L312.25,477.55 L313.76,477.23 L315.26,477.05 L316.68,477.08 L318.00,477.18 L319.26,476.81 L320.53,476.64 L321.80,476.65 L323.06,476.36 L324.31,476.39 L325.54,476.44 L326.73,476.33 L327.87,476.26 L328.97,475.97 L330.00,475.71 L331.00,475.61 L332.95,475.57 L334.75,475.26 L336.31,475.27 L337.54,474.92" fill="none" stroke="#000" stroke-width="1.4" stroke-linejoin="round" stroke-linecap="round"/>
<path d="M340.70,471.82 L342.50,469.84 L343.92,471.26 L345.62,470.11 L347.28,469.53 L348.80,471.03 L350.07,468.36 L351.22,468.65 L352.40,467.71 L353.60,465.08 L354.80,465.72 L355.70,463.33 L356.61,461.81 L357.50,461.69 L358.39,458.56 L359.28,456.76 L360.15,457.10 L360.97,453.86 L361.73,453.44 L362.47,450.40 L363.20,450.67 L363.88,446.61 L364.53,446.33 L365.30,443.23 L365.94,441.64 L366.69,440.87 L367.51,437.86 L368.36,436.29 L369.20,435.33 L369.99,432.98 L370.77,429.31 L371.55,428.46 L372.33,425.24 L373.11,424.38 L373.90,420.95 L374.72,420.66 L375.56,417.73 L376.37,416.71 L377.14,416.76 L378.16,413.96 L379.06,413.62 L379.92,410.93 L380.79,410.55 L381.86,408.60 L383.11,407.27 L384.40,407.47 L385.43,404.84 L386.52,404.11 L387.63,404.17 L389.21,401.99 L390.66,402.42 L392.13,399.97 L393.80,401.18 L395.11,399.06 L396.55,399.77 L398.04,397.95 L399.48,398.98 L401.38,397.82 L402.85,397.87 L404.25,395.22 L406.00,396.99 L407.50,396.12 L409.19,394.40 L410.99,396.43 L412.82,395.84 L414.60,394.55 L416.34,394.17 L418.08,395.29 L419.82,394.93 L421.56,393.12 L423.30,394.71 L425.02,394.45 L426.74,392.69 L428.46,394.08 L430.18,393.92 L431.90,393.86 L433.64,392.68 L435.38,393.73 L437.12,392.04 L438.86,393.63 L440.60,393.36 L442.37,392.51 L444.18,391.56 L445.97,392.96 L447.66,392.71 L449.20,391.05 L451.16,391.44 L452.84,391.41 L454.45,389.53 L456.19,391.55 L458.06,389.27 L459.67,391.01" fill="none" stroke="#000" stroke-width="1.7" stroke-linejoin="round" stroke-linecap="round"/>
<path d="M340.70,470.88 L342.59,470.72 L344.36,471.02 L346.25,470.79 L348.03,470.10 L349.50,469.51 L350.84,469.48 L352.09,468.14 L353.29,468.35 L354.44,466.81 L355.55,465.58 L356.60,464.65 L357.60,463.17 L358.57,462.06 L359.52,460.85 L360.47,459.04 L361.37,457.08 L362.24,455.00 L363.13,453.16 L364.09,451.49 L365.14,449.20 L366.30,447.79 L367.52,445.67 L368.76,443.49 L370.00,441.79 L371.20,440.83 L372.41,438.64 L373.62,436.77 L374.81,435.16 L375.95,433.75 L377.03,431.30 L378.04,429.31 L379.01,427.29 L379.95,424.84 L380.91,423.51 L381.90,421.52 L382.95,419.59 L384.01,417.61 L385.04,415.83 L385.98,414.54 L386.79,412.63 L387.80,412.21 L388.67,410.20 L389.77,409.96 L390.90,408.13 L392.10,407.95 L393.36,406.29 L394.84,404.89 L395.99,404.63 L397.30,404.21 L398.82,403.43 L400.53,402.67 L402.36,402.00 L404.21,400.14 L406.00,399.85 L407.72,398.93 L409.44,399.17 L411.16,398.32 L412.88,398.22 L414.60,397.85 L416.34,397.70 L418.08,396.96 L419.82,396.87 L421.56,396.17 L423.30,395.30 L425.02,395.96 L426.74,394.70 L428.46,394.41 L430.18,395.03 L431.90,394.14 L433.64,394.39 L435.38,393.46 L437.12,393.53 L438.86,394.00 L440.60,393.05 L442.37,393.48 L444.18,393.87 L445.97,392.89 L447.66,393.36 L449.20,393.29 L450.55,393.02 L452.30,393.02 L453.91,392.76 L455.58,391.75 L457.45,391.76 L459.19,391.98" fill="none" stroke="#000" stroke-width="1.8" stroke-linejoin="round" stroke-linecap="round"/>
<path d="M340.70,472.73 L341.70,472.19 L343.11,472.15 L344.75,471.63 L346.44,471.63 L348.00,470.97 L349.42,470.42 L350.82,469.78 L352.21,468.74 L353.60,468.28 L355.00,467.65 L356.37,467.11 L357.72,466.29 L359.08,465.78 L360.50,465.28 L362.00,465.20 L363.57,464.55 L365.17,464.16 L366.85,463.86 L368.65,463.56 L370.60,462.91 L371.65,462.65 L372.75,462.57 L373.90,462.26 L375.08,461.69 L376.29,461.24 L377.52,461.34 L378.75,460.92 L379.98,460.55 L381.20,460.19 L382.40,460.23 L383.59,459.77 L384.81,459.49 L386.03,459.29 L387.25,459.30 L388.47,459.31 L389.68,459.09 L390.87,459.28 L392.05,459.03 L393.19,458.81 L394.30,458.78 L395.31,458.61 L396.96,458.32 L398.48,457.95 L400.23,457.65 L401.33,457.46 L402.64,457.45 L404.20,456.95 L406.08,457.05 L408.26,456.61 L410.68,456.68 L413.26,456.08 L415.94,456.07 L418.65,455.83 L421.33,455.74 L423.91,455.25 L426.32,455.03 L428.50,454.72 L430.46,454.67 L432.29,454.40 L434.01,453.83 L435.64,453.63 L437.21,453.35 L438.74,453.43 L440.26,452.88 L441.79,452.63 L443.36,452.19 L445.00,452.08 L446.76,451.85 L448.64,451.44 L450.60,450.76 L452.58,450.63 L454.53,450.31 L456.40,449.76 L458.13,449.83 L459.68,449.32 L460.99,449.08 L462.00,449.06" fill="none" stroke="#000" stroke-width="1.7" stroke-linejoin="round" stroke-linecap="round"/>
<path d="M342.00,476.04 L343.09,475.67 L344.62,475.38 L346.42,474.67 L348.27,473.99 L350.00,473.28 L351.62,472.93 L353.27,472.17 L354.90,471.60 L356.49,470.90 L358.00,470.25 L359.36,469.96 L360.58,469.86 L361.79,469.71 L363.09,469.94 L364.60,469.54 L366.34,468.96 L368.23,468.69 L369.22,468.38 L370.24,467.82 L371.28,467.89 L372.34,467.36 L373.41,467.49 L374.50,466.82 L375.58,466.67 L376.66,466.44 L377.74,466.54 L378.83,466.32 L379.96,466.01 L381.12,465.60 L382.33,465.55 L383.61,465.49 L384.96,464.98 L386.40,465.21 L387.91,464.97 L389.48,464.81 L391.10,464.48 L392.78,464.23 L394.52,464.21 L396.33,463.65 L398.20,463.47 L400.13,463.18 L402.13,463.02 L404.20,463.15 L406.40,462.63 L408.77,462.79 L411.26,462.46 L413.83,462.55 L416.43,462.35 L419.03,462.17 L421.58,462.11 L424.04,461.56 L426.36,461.53 L428.50,461.43 L430.46,461.31 L432.29,461.28 L434.01,461.24 L435.64,461.02 L437.21,460.96 L438.74,460.69 L440.26,460.37 L441.79,460.30 L443.36,460.27 L445.00,460.16 L446.76,459.78 L448.64,459.62 L450.60,459.59 L452.58,459.23 L454.53,459.40 L456.40,458.80 L458.13,458.99 L459.68,458.78 L460.99,458.53 L462.00,458.64" fill="none" stroke="#000" stroke-width="1.7" stroke-linejoin="round" stroke-linecap="round"/>
<line x1="328.70" y1="454.40" x2="328.70" y2="463.20" stroke="#000" stroke-width="1.5"/>
<polygon points="325.20,462.70 332.20,462.70 328.70,471.00" fill="#000"/>
<text x="316.90" y="439.80" font-size="6.7" text-anchor="start" >0.02µg</text>
<text x="316.90" y="448.00" font-size="6.7" text-anchor="start" >CRP-XL</text>
<text x="465.50" y="387.80" font-size="6.9" text-anchor="start" >1 mM Succinate</text>
<text x="465.30" y="399.70" font-size="6.9" text-anchor="start" >500 µM Succinate</text>
<text x="465.30" y="447.10" font-size="6.9" text-anchor="start" >100 µM Succinate</text>
<text x="465.30" y="461.30" font-size="6.9" text-anchor="start" >CRP-XL only</text>
</svg>
</body></html>
